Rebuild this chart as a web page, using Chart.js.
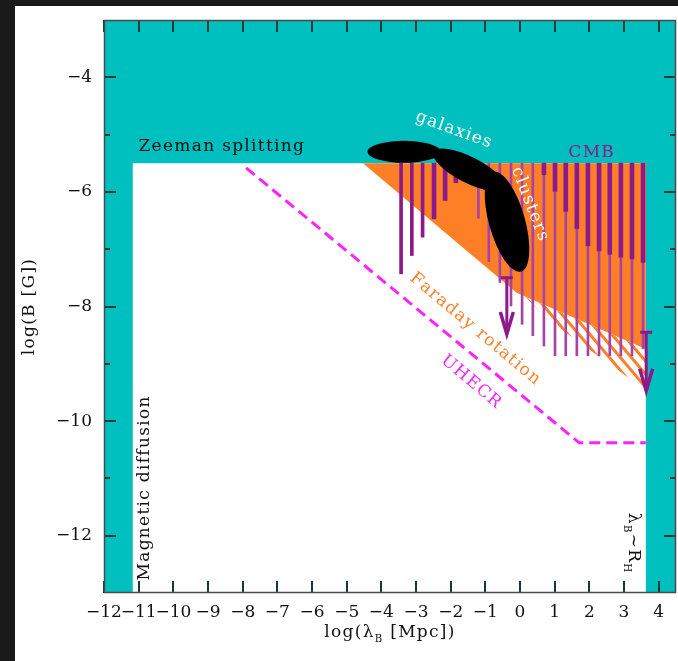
<!DOCTYPE html>
<html>
<head>
<meta charset="utf-8">
<script src="https://cdn.jsdelivr.net/npm/chart.js@4.4.0/dist/chart.umd.min.js"></script>
<style>
  html, body { margin: 0; padding: 0; background: #1a1a1a; width: 678px; height: 661px; overflow: hidden; }
  #wrap { position: absolute; left: 15px; top: 6px; width: 663px; height: 655px; background: #fff; }
</style>
</head>
<body>
<div id="wrap"><canvas id="chart" width="663" height="655"></canvas></div>
<script>
// axis ranges and ticks (log lambda_B [Mpc], log B [G])
const xRange = [-12, 4.5];
const yRange = [-13, -3];
const xTicks = [-12, -11, -10, -9, -8, -7, -6, -5, -4, -3, -2, -1, 0, 1, 2, 3, 4];
const yTicks = [-12, -11, -10, -9, -8, -7, -6, -5, -4];
const yLabelled = [-12, -10, -8, -6, -4];

// excluded regions
const zeemanLimit = -5.5;
const diffusionScale = -11.17;
const hubbleScale = 3.63;

// Faraday rotation bound (filled + hatched part)
const faradayX = [-4.53, -0.1, 3.63, 3.63];
const faradayY = [-5.5, -7.76, -8.74, -5.5];
const hatchX = [0.15, 3.63, 3.63, 0.78];
const hatchY = [-7.83, -8.74, -9.46, -8.22];

// UHECR dashed bound
const uhecrX = [-7.9, 1.71, 3.63];
const uhecrY = [-5.58, -10.38, -10.38];

// CMB limits, drawn down from the Zeeman line
const cmbMidX = [-3.43, -3.12, -2.81];
const cmbMidLow = [-7.43, -7.11, -6.79];
const cmbThinX = [-1.20, -0.90, -0.58, -0.26, 0.06, 0.37, 0.69, 1.01, 1.32, 1.64, 1.96, 2.28, 2.59, 2.91, 3.23, 3.55];
const cmbThinLow = [-6.46, -7.22, -7.58, -7.99, -8.31, -8.51, -8.69, -8.86, -8.86, -8.86, -8.86, -8.86, -8.86, -8.86, -8.86, -8.74];
const cmbThickX = [-2.48, -2.16, -1.85, 0.69, 1.01, 1.32, 1.64, 1.96, 2.28, 2.59, 2.91, 3.23, 3.55];
const cmbThickLow = [-6.47, -6.15, -5.84, -5.70, -5.99, -6.34, -6.64, -6.94, -7.03, -7.09, -7.14, -7.17, -7.23];

// upper limits with arrows
const arrowX = [-0.38, 3.64];
const arrowTop = [-7.50, -8.45];
const arrowTip = [-8.48, -9.47];

// galaxies / clusters blobs: ends of the long axis
const blobX1 = [-4.40, -2.50, -0.78];
const blobY1 = [-5.30, -5.30, -5.65];
const blobX2 = [-2.29, -0.45, 0.03];
const blobY2 = [-5.30, -5.93, -7.39];
const blobHalfWidth = [11, 13, 18];

const TEAL = '#00bfbf';
const ORANGE = '#ff7f27';
const PURPLE = '#8c1a8a';
const PURPLE_LIGHT = '#a843a6';
const MAGENTA = '#ff22ff';
const FONT = 'DejaVu Serif';

// text annotations
const notes = [
  { parts: [['Zeeman splitting']], x: -8.60, y: -5.21, angle: 0, color: '#111', size: 17 },
  { parts: [['galaxies']], x: -1.90, y: -4.92, angle: 20, color: '#fff', size: 17 },
  { parts: [['clusters']], x: 0.29, y: -6.22, angle: 69, color: '#fff', size: 17 },
  { parts: [['CMB']], x: 2.07, y: -5.31, angle: 0, color: PURPLE, size: 17 },
  { parts: [['Faraday rotation']], x: -1.30, y: -8.39, angle: 40, color: ORANGE, size: 17 },
  { parts: [['UHECR']], x: -1.40, y: -9.32, angle: 40, color: MAGENTA, size: 17 },
  { parts: [['Magnetic diffusion']], x: -10.84, y: -11.17, angle: -90, color: '#111', size: 17 },
  { parts: [['λ'], ['B', 1], ['~R'], ['H', 1]], x: 3.26, y: -12.13, angle: 90, color: '#111', size: 17 }
];

const pts = (xs, ys) => xs.map((x, i) => ({ x, y: ys[i] }));
const bars = (xs, lows) => xs.map((x, i) => ({ x, y: [zeemanLimit, lows[i]] }));
const fmt = v => (v < 0 ? '\u2212' + Math.abs(v) : String(v));

function hatch(color) {
  const c = document.createElement('canvas');
  const w = 11, h = 13;
  c.width = w; c.height = h;
  const g = c.getContext('2d');
  g.strokeStyle = color;
  g.lineWidth = 3;
  g.beginPath();
  [-w, 0, w].forEach(o => { g.moveTo(o - w, -h); g.lineTo(o + 2 * w, 2 * h); });
  g.stroke();
  return g.createPattern(c, 'repeat');
}

function drawRich(ctx, parts, x, y, angle, size, color) {
  ctx.save();
  ctx.translate(x, y);
  ctx.rotate(angle * Math.PI / 180);
  ctx.fillStyle = color;
  ctx.textBaseline = 'middle';
  ctx.textAlign = 'left';
  const sz = p => (p[1] ? size * 0.6 : size);
  const gap = 1.3;
  let total = 0;
  parts.forEach(p => { ctx.font = sz(p) + 'px "' + FONT + '"'; total += ctx.measureText(p[0]).width + gap * p[0].length; });
  let cx = -total / 2;
  parts.forEach(p => {
    ctx.font = sz(p) + 'px "' + FONT + '"';
    for (const ch of p[0]) {
      ctx.fillText(ch, cx, p[1] ? size * 0.35 : 0);
      cx += ctx.measureText(ch).width + gap;
    }
  });
  ctx.restore();
}

// inward tick marks on all four sides, plus the box
function drawFrame(chart) {
  const { ctx, chartArea: a } = chart;
  const L = a.left, T = a.top, R = a.right, B = a.bottom;
  const toX = v => L + (v - xRange[0]) / (xRange[1] - xRange[0]) * (R - L);
  const toY = v => B - (v - yRange[0]) / (yRange[1] - yRange[0]) * (B - T);
  ctx.save();
  ctx.setTransform(1, 0, 0, 1, 0, 0);
  ctx.globalAlpha = 1;
  ctx.globalCompositeOperation = 'source-over';
  ctx.fillStyle = '#123a3a';
  for (const v of xTicks) {
    const px = Math.round(toX(v));
    ctx.fillRect(px - 1, B - 12, 2, 12);
    ctx.fillRect(px - 1, T, 2, 12);
  }
  for (const v of yTicks) {
    const py = Math.round(toY(v));
    const len = yLabelled.indexOf(v) >= 0 ? 12 : 6;
    ctx.fillRect(L, py - 1, len, 2);
    ctx.fillRect(R - len, py - 1, len, 2);
  }
  ctx.strokeStyle = '#4a4a4a';
  ctx.lineWidth = 1.5;
  ctx.strokeRect(L + 0.5, T + 0.5, R - L - 1, B - T - 1);
  ctx.restore();
}

const decor = {
  id: 'decor',
  beforeDatasetsDraw(chart) {
    const { ctx, chartArea: a } = chart;
    ctx.save();
    ctx.fillStyle = TEAL;
    ctx.fillRect(a.left, a.top, a.width, a.height);
    ctx.restore();
  },
  afterDatasetsDraw(chart) {
    const { ctx, chartArea: a, scales } = chart;
    const sx = scales.x, sy = scales.y;
    ctx.save();
    // blobs
    ctx.fillStyle = '#000';
    blobX1.forEach((_, i) => {
      const x1 = sx.getPixelForValue(blobX1[i]), y1 = sy.getPixelForValue(blobY1[i]);
      const x2 = sx.getPixelForValue(blobX2[i]), y2 = sy.getPixelForValue(blobY2[i]);
      const len = Math.hypot(x2 - x1, y2 - y1) / 2;
      ctx.beginPath();
      ctx.ellipse((x1 + x2) / 2, (y1 + y2) / 2, len, blobHalfWidth[i], Math.atan2(y2 - y1, x2 - x1), 0, Math.PI * 2);
      ctx.fill();
    });
    // arrows
    ctx.setLineDash([]);
    ctx.strokeStyle = PURPLE;
    arrowX.forEach((v, i) => {
      const px = sx.getPixelForValue(v);
      const top = sy.getPixelForValue(arrowTop[i]);
      const tip = sy.getPixelForValue(arrowTip[i]);
      ctx.lineWidth = 3;
      ctx.beginPath();
      ctx.moveTo(px - 6, top); ctx.lineTo(px + 6, top);
      ctx.moveTo(px, top); ctx.lineTo(px, tip - 2);
      ctx.stroke();
      ctx.lineWidth = 3.5;
      ctx.beginPath();
      ctx.moveTo(px - 6.5, tip - 22); ctx.lineTo(px, tip); ctx.lineTo(px + 6.5, tip - 22);
      ctx.stroke();
    });
    ctx.restore();
    notes.forEach(n => drawRich(ctx, n.parts, sx.getPixelForValue(n.x), sy.getPixelForValue(n.y), n.angle, n.size, n.color));
    // axis titles
    drawRich(ctx, [['log(λ'], ['B', 1], [' [Mpc])']], (a.left + a.right) / 2, a.bottom + 40, 0, 17, '#111');
    drawRich(ctx, [['log(B [G])']], 15, (a.top + a.bottom) / 2, -90, 17, '#111');
  },
  afterDraw(chart) {
    drawFrame(chart);
  }
};

Chart.defaults.font.family = FONT;

new Chart(document.getElementById('chart'), {
  type: 'bar',
  data: {
    datasets: [
      {
        type: 'line', order: 10,
        data: pts([diffusionScale, diffusionScale, hubbleScale, hubbleScale], [yRange[0], zeemanLimit, zeemanLimit, yRange[0]]),
        backgroundColor: '#fff', borderWidth: 0, pointRadius: 0, fill: 'shape'
      },
      {
        type: 'line', order: 9,
        data: pts(faradayX, faradayY),
        backgroundColor: ORANGE, borderWidth: 0, pointRadius: 0, fill: 'shape'
      },
      {
        type: 'line', order: 8,
        data: pts(hatchX, hatchY),
        backgroundColor: hatch(ORANGE), borderWidth: 0, pointRadius: 0, fill: 'shape'
      },
      {
        type: 'bar', order: 7, grouped: false,
        data: bars(cmbMidX, cmbMidLow),
        backgroundColor: PURPLE, barThickness: 3
      },
      {
        type: 'bar', order: 6, grouped: false,
        data: bars(cmbThinX, cmbThinLow),
        backgroundColor: PURPLE_LIGHT, barThickness: 2
      },
      {
        type: 'bar', order: 5, grouped: false,
        data: bars(cmbThickX, cmbThickLow),
        backgroundColor: PURPLE, barThickness: 4
      },
      {
        type: 'line', order: 4,
        data: pts(uhecrX, uhecrY),
        borderColor: MAGENTA, borderWidth: 3, borderDash: [11, 6], pointRadius: 0, fill: false, tension: 0
      }
    ]
  },
  options: {
    responsive: false,
    animation: false,
    layout: { padding: { top: 14, right: 2, left: 0, bottom: 0 } },
    plugins: { legend: { display: false }, tooltip: { enabled: false } },
    scales: {
      x: {
        type: 'linear', min: xRange[0], max: xRange[1], offset: false,
        grid: { display: false, drawTicks: false }, border: { display: false },
        afterBuildTicks: s => { s.ticks = xTicks.map(v => ({ value: v })); },
        ticks: {
          autoSkip: false, maxRotation: 0, minRotation: 0,
          padding: 9, color: '#111', font: { size: 17 }, callback: v => fmt(v)
        },
        afterFit: s => { s.height = 68; s.paddingLeft = 0; s.paddingRight = 0; }
      },
      y: {
        type: 'linear', min: yRange[0], max: yRange[1],
        grid: { display: false, drawTicks: false }, border: { display: false },
        afterBuildTicks: s => { s.ticks = yLabelled.map(v => ({ value: v })); },
        ticks: {
          autoSkip: false,
          padding: 12, color: '#111', font: { size: 17 }, callback: v => fmt(v)
        },
        afterFit: s => { s.width = 89; s.paddingTop = 0; s.paddingBottom = 0; }
      }
    }
  },
  plugins: [decor]
});
</script>
</body>
</html>
